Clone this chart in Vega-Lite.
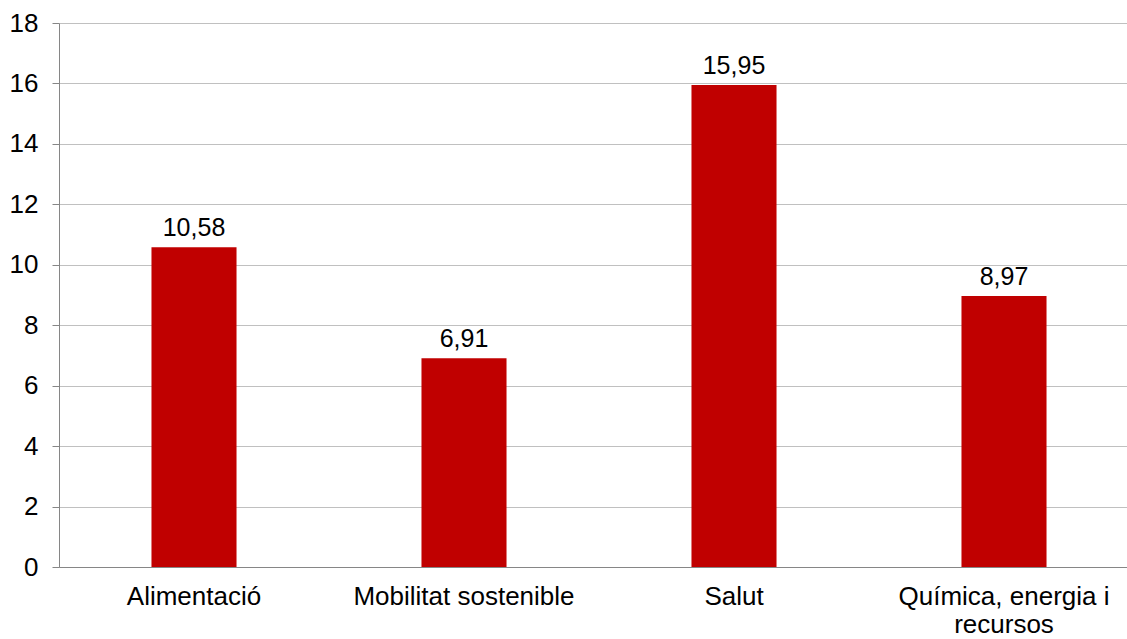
{
  "$schema": "https://vega.github.io/schema/vega-lite/v6.json",
  "width": 1080,
  "height": 544,
  "padding": {"left": 9, "top": 10, "right": 0, "bottom": 0},
  "background": "white",
  "config": {
    "view": {"stroke": null},
    "font": "Liberation Sans",
    "locale": {"number": {"decimal": ",", "thousands": ".", "grouping": [3], "currency": ["", " €"]}},
    "axis": {"labelFont": "Liberation Sans", "labelColor": "#000000", "labelFontSize": 26}
  },
  "data": {
    "values": [
      {"category": "Alimentació", "value": 10.58},
      {"category": "Mobilitat sostenible", "value": 6.91},
      {"category": "Salut", "value": 15.95},
      {"category": "Química, energia i recursos", "value": 8.97}
    ]
  },
  "encoding": {
    "x": {
      "field": "category",
      "type": "nominal",
      "sort": null,
      "scale": {"paddingInner": 0.685, "paddingOuter": 0.3425},
      "axis": {
        "title": null,
        "labelAngle": 0,
        "ticks": false,
        "domainColor": "#868686",
        "labelPadding": 16,
        "labelLimit": 0,
        "labelLineHeight": 28,
        "labelExpr": "datum.value == 'Química, energia i recursos' ? ['Química, energia i', 'recursos'] : datum.value"
      }
    },
    "y": {
      "field": "value",
      "type": "quantitative",
      "scale": {"domain": [0, 18]},
      "axis": {
        "title": null,
        "values": [0, 2, 4, 6, 8, 10, 12, 14, 16, 18],
        "tickSize": 7,
        "tickColor": "#868686",
        "domainColor": "#868686",
        "gridColor": "#c0c0c0",
        "labelPadding": 14
      }
    }
  },
  "layer": [
    {"mark": {"type": "bar", "color": "#c00000"}},
    {
      "mark": {"type": "text", "baseline": "bottom", "dy": -6, "fontSize": 25, "color": "#000000"},
      "encoding": {
        "text": {"field": "value", "type": "quantitative", "format": ".2f"}
      }
    }
  ]
}
